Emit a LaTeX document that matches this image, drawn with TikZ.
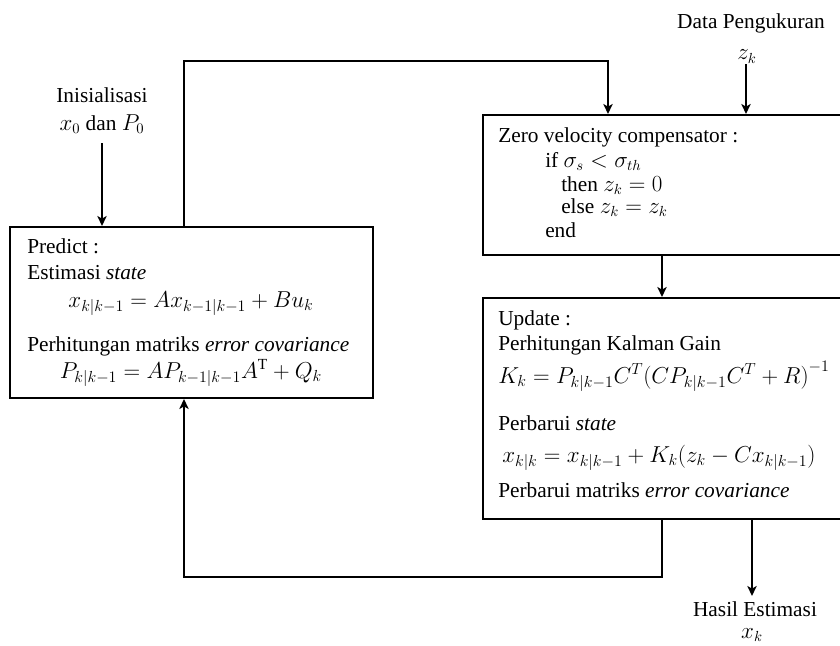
\documentclass[tikz,border=0pt]{standalone}
\usepackage{fontspec}
\setmainfont{Liberation Serif}
\usetikzlibrary{arrows.meta,fit}
\begin{document}
\begin{tikzpicture}[x=0.75pt,y=-0.75pt,
  box/.style={draw, line width=1.5pt, rectangle, inner sep=0pt},
  txt/.style={anchor=base west, inner sep=0pt, font=\fontsize{16}{19}\selectfont},
  lbl/.style={anchor=base, inner sep=0pt, font=\fontsize{16}{19}\selectfont},
  eqn/.style={anchor=base, inner sep=0pt, font=\fontsize{16.5}{20}\selectfont},
  eqw/.style={anchor=base west, inner sep=0pt, font=\fontsize{16.5}{20}\selectfont},
  conn/.style={line width=1.5pt},
  arr/.style={conn, -{Stealth[length=7.5pt,width=7pt,inset=2pt]}}]
\clip (0,0) rectangle (840,646);
\fill[white] (0,0) rectangle (840,646);
% boxes
\node[box, fit={(10,227) (373,398)}] (predict) {};
\node[box, fit={(483,115) (860,255)}] (zvc) {};
\node[box, fit={(483,298) (860,519)}] (update) {};
% outer labels
\node[lbl] (data) at (751,28) {Data Pengukuran};
\node[lbl] (zk) at (747,60) {$z_k$};
\node[lbl] (init) at (102,102) {Inisialisasi};
\node[lbl] (init0) at (102,130) {$x_0$ dan $P_0$};
\node[lbl] (hasil) at (755,616) {Hasil Estimasi};
\node[lbl] (xk) at (752,638) {$x_k$};
% predict text
\node[txt] (p1) at (27,253) {Predict :};
\node[txt] (p2) at (27,279) {Estimasi \textit{state}};
\node[eqn] (p3) at (191,307) {$x_{k|k-1} = Ax_{k-1|k-1} + Bu_k$};
\node[txt] (p4) at (27,351) {Perhitungan matriks \textit{error covariance}};
\node[eqn] (p5) at (191,378) {$P_{k|k-1} = AP_{k-1|k-1}A^{\mathrm{T}} + Q_k$};
% zvc text
\node[txt] (z1) at (498,142) {Zero velocity compensator :};
\node[txt] (z2) at (545,167) {if $\sigma_s < \sigma_{th}$};
\node[txt] (z3) at (561,191) {then $z_k = 0$};
\node[txt] (z4) at (561,213) {else $z_k = z_k$};
\node[txt] (z5) at (545,237) {end};
% update text
\node[txt] (u1) at (498,325) {Update :};
\node[txt] (u2) at (498,350) {Perhitungan Kalman Gain};
\node[eqw] (u3) at (498,383) {$K_k = P_{k|k-1}C^T\bigl(CP_{k|k-1}C^T + R\bigr)^{-1}$};
\node[txt] (u4) at (498,430) {Perbarui \textit{state}};
\node[eqw] (u5) at (502,462) {$x_{k|k} = x_{k|k-1} + K_k(z_k - Cx_{k|k-1})$};
\node[txt] (u6) at (498,497) {Perbarui matriks \textit{error covariance}};
% connector helper coordinates
\coordinate (ia) at (102,143);
\coordinate (t1) at (184,61);
\coordinate (t2) at (608,61);
\coordinate (za) at (746,64);
\coordinate (m1) at (662,277);
\coordinate (b1) at (662,577);
\coordinate (b2) at (184,577);
\coordinate (o1) at (752,596);
% connectors
\draw[arr] (ia) -- (ia |- predict.north);
\draw[arr] (t1 |- predict.north) -- (t1) -- (t2) -- (t2 |- zvc.north);
\draw[arr] (za) -- (za |- zvc.north);
\draw[arr] (m1 |- zvc.south) -- (m1 |- update.north);
\draw[arr] (b1 |- update.south) -- (b1) -- (b2) -- (b2 |- predict.south);
\draw[arr] (o1 |- update.south) -- (o1);
\end{tikzpicture}
\end{document}
